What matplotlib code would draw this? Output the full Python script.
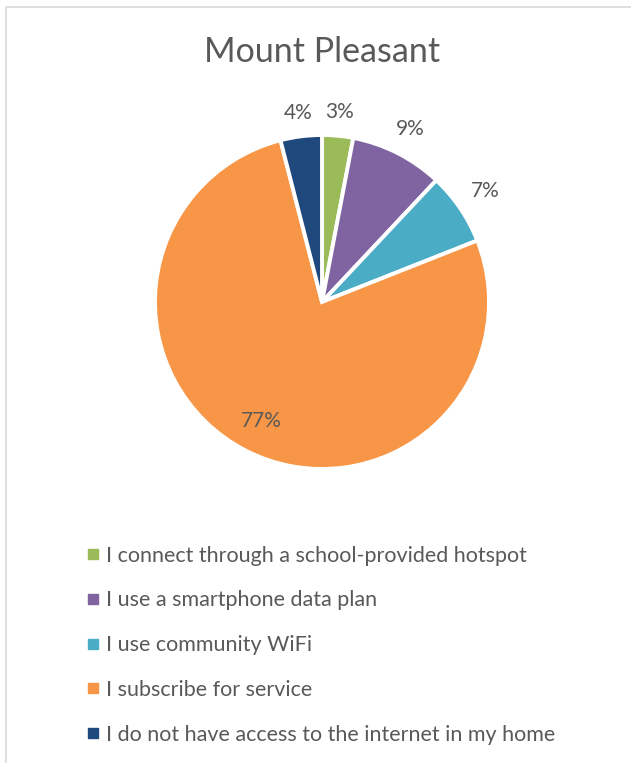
import matplotlib.pyplot as plt
from matplotlib.lines import Line2D
from matplotlib.patches import Rectangle
import numpy as np

plt.rcParams['font.family'] = ['Lato', 'DejaVu Sans']

# Survey answers, Mount Pleasant
categories = ['I connect through a school-provided hotspot',
              'I use a smartphone data plan',
              'I use community WiFi',
              'I subscribe for service',
              'I do not have access to the internet in my home']
shares = [3, 9, 7, 77, 4]
pct_labels = ['3%', '9%', '7%', '77%', '4%']
colors = ['#9BBB59', '#8064A2', '#4BACC6', '#F79646', '#1F497D']
text_col = '#595959'

W, H = 631, 763
fig = plt.figure(figsize=(W / 100, H / 100), dpi=100)

# light frame around the chart area
fig.patches.append(Rectangle((6 / W, -0.1), 1.2, 1 - 7 / H + 0.1,
                             transform=fig.transFigure, fill=False,
                             edgecolor='#D9D9D9', linewidth=1.2))

fig.text(322 / W, 1 - 52 / H, 'Mount Pleasant', ha='center', va='center',
         fontsize=24.5, color=text_col)

# pie axes: center (322, 302) px, radius 167 px
cx, cy, r = 322, 302, 167
ax = fig.add_axes([(cx - r) / W, (H - cy - r) / H, 2 * r / W, 2 * r / H])
wedges, _ = ax.pie(shares, colors=colors, startangle=90, counterclock=False,
                   radius=1, wedgeprops=dict(edgecolor='white', linewidth=2.8))
ax.set_xlim(-1, 1)
ax.set_ylim(-1, 1)
ax.set_aspect('equal')
ax.axis('off')

# small slices labelled outside, the big one inside
label_dist = [1.14, 1.16, 1.18, 0.80, 1.14]
for w, lab, d in zip(wedges, pct_labels, label_dist):
    ang = np.deg2rad((w.theta1 + w.theta2) / 2)
    ax.text(d * np.cos(ang), d * np.sin(ang), lab, ha='center', va='center',
            fontsize=15, color=text_col, clip_on=False)

handles = [Line2D([], [], marker='s', linestyle='none', markersize=7,
                  markerfacecolor=c, markeredgecolor=c) for c in colors]
fig.legend(handles, categories, loc='upper left',
           bbox_to_anchor=(76 / W, 1 - 537 / H), frameon=False,
           fontsize=15.5, labelcolor=text_col, handlelength=0.8,
           handletextpad=0.2, labelspacing=1.15, borderaxespad=0)

fig.savefig('out.png', dpi=100, facecolor='white')
